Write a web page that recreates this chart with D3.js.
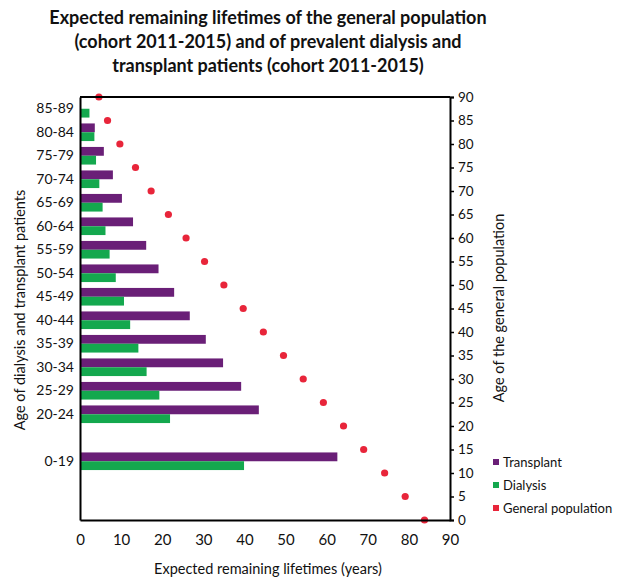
<!DOCTYPE html>
<html><head><meta charset="utf-8">
<script src="https://cdn.jsdelivr.net/npm/d3@7"></script>
<style>
body{margin:0;background:#fff;}
svg{display:block;font-family:Lato,"Open Sans",sans-serif;}
</style></head>
<body><svg id="c" width="617" height="578"></svg>
<script>
// ---- data ----
const categories = ["85-89","80-84","75-79","70-74","65-69","60-64","55-59","50-54","45-49","40-44","35-39","30-34","25-29","20-24","0-19"];
const transplant = [null,3.6,5.8,8.0,10.2,12.9,16.1,19.1,22.9,26.7,30.6,34.8,39.2,43.5,62.6];
const dialysis   = [2.3,3.5,3.9,4.7,5.5,6.2,7.2,8.7,10.7,12.2,14.2,16.2,19.3,21.9,39.9];
const genAges    = [0,5,10,15,20,25,30,35,40,45,50,55,60,65,70,75,80,85,90];
const genValues  = [83.8,79.1,74.1,69.0,64.1,59.2,54.3,49.5,44.6,39.7,35.0,30.3,25.8,21.5,17.3,13.5,9.7,6.7,4.6];
const xTicks     = [0,10,20,30,40,50,60,70,80,90];
const rightTicks = [0,5,10,15,20,25,30,35,40,45,50,55,60,65,70,75,80,85,90];
const seriesNames = ["Transplant","Dialysis","General population"];
const titleLines = ["Expected remaining lifetimes of the general population","(cohort 2011-2015) and of prevalent dialysis and","transplant patients (cohort 2011-2015)"];

const colors = {"Transplant":"#6a1f77","Dialysis":"#14a84e","General population":"#e8253a"};

const svg = d3.select("#c");
const L=80,R=450,T=97,B=520;

// category slots (top to bottom) including empty slots as in the original axis
const slots = categories.slice(0,14).concat(["_g1","0-19","_g2","_g3"]);
const y0 = d3.scaleBand().domain(slots).range([T,B]).paddingInner(0.25).paddingOuter(0.125);
const y1 = d3.scaleBand().domain(["Transplant","Dialysis"]).range([0,y0.bandwidth()]);
const x = d3.scaleLinear().domain([0,90]).range([L,R]);
const yR = d3.scaleLinear().domain([0,90]).range([B,T]);

// title
svg.append("g").selectAll("text").data(titleLines).join("text")
  .attr("x",268).attr("y",(d,i)=>24+i*24)
  .attr("text-anchor","middle").attr("font-weight","bold").attr("font-size",18)
  .attr("fill","#111").text(d=>d);

// bars
const rows = categories.map((c,i)=>({cat:c,Transplant:transplant[i],Dialysis:dialysis[i]}));
const gBars = svg.append("g");
rows.forEach(r=>{
  ["Transplant","Dialysis"].forEach(s=>{
    if(r[s]==null) return;
    gBars.append("rect")
      .attr("x",x(0)).attr("y",y0(r.cat)+y1(s))
      .attr("width",x(r[s])-x(0)).attr("height",y1.bandwidth())
      .attr("fill",colors[s]);
  });
});

// general population dots
svg.append("g").selectAll("circle").data(genAges.map((a,i)=>({a,v:genValues[i]}))).join("circle")
  .attr("cx",d=>x(d.v)).attr("cy",d=>yR(d.a)).attr("r",3.6)
  .attr("fill",colors["General population"]);

// frame
svg.append("line").attr("x1",L).attr("x2",R).attr("y1",T).attr("y2",T).attr("stroke","#000").attr("stroke-width",2);

// bottom axis
const ax = svg.append("g").attr("transform",`translate(0,${B})`)
  .call(d3.axisBottom(x).tickValues(xTicks).tickSize(0).tickPadding(14));
ax.select(".domain").attr("stroke","#000").attr("stroke-width",2);
ax.selectAll("text").attr("font-size",15).attr("fill","#111").attr("font-family","Lato,sans-serif");

// left axis
const ay = svg.append("g").attr("transform",`translate(${L},0)`)
  .call(d3.axisLeft(y0).tickValues(categories).tickSize(0).tickPadding(6));
ay.select(".domain").attr("stroke","#000").attr("stroke-width",2);
ay.selectAll("text").attr("font-size",14).attr("fill","#111").attr("font-family","Lato,sans-serif");

// right axis
const ar = svg.append("g").attr("transform",`translate(${R},0)`)
  .call(d3.axisRight(yR).tickValues(rightTicks).tickSize(4).tickPadding(4));
ar.select(".domain").attr("stroke","#000").attr("stroke-width",2);
ar.selectAll("line").attr("stroke","#000").attr("stroke-width",1.5);
ar.selectAll("text").attr("font-size",13.5).attr("fill","#111").attr("font-family","Lato,sans-serif");

// axis titles
svg.append("text").attr("x",268).attr("y",574).attr("text-anchor","middle")
  .attr("font-size",14.5).attr("fill","#111").text("Expected remaining lifetimes (years)");
svg.append("text").attr("transform","translate(25,310) rotate(-90)").attr("text-anchor","middle")
  .attr("font-size",14.5).attr("fill","#111").text("Age of dialysis  and  transplant patients");
svg.append("text").attr("transform","translate(504,308) rotate(-90)").attr("text-anchor","middle")
  .attr("font-size",14.5).attr("fill","#111").text("Age of the general population");

// legend
const lg = svg.append("g").selectAll("g").data(seriesNames).join("g")
  .attr("transform",(d,i)=>`translate(493,${462+i*23})`);
lg.append("rect").attr("x",0).attr("y",-3).attr("width",6).attr("height",6).attr("fill",d=>colors[d]);
lg.append("text").attr("x",10).attr("y",4.5).attr("font-size",13).attr("fill","#111").text(d=>d);
</script></body></html>
